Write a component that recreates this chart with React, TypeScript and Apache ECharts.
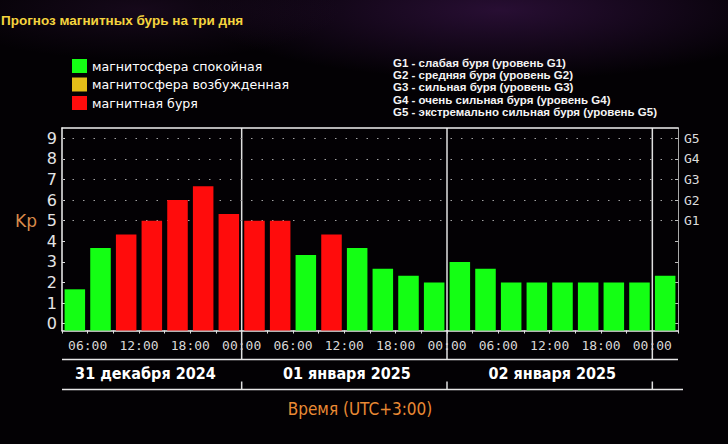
import React, { useEffect, useRef } from 'react';
import * as echarts from 'echarts';

// ---- data ----
const categories = [
  '31.12 03:00', '31.12 06:00', '31.12 09:00', '31.12 12:00', '31.12 15:00', '31.12 18:00', '31.12 21:00',
  '01.01 00:00', '01.01 03:00', '01.01 06:00', '01.01 09:00', '01.01 12:00', '01.01 15:00', '01.01 18:00', '01.01 21:00',
  '02.01 00:00', '02.01 03:00', '02.01 06:00', '02.01 09:00', '02.01 12:00', '02.01 15:00', '02.01 18:00', '02.01 21:00',
  '03.01 00:00',
];
const kpValues = [
  1.67, 3.67, 4.33, 5, 6, 6.67, 5.33,
  5, 5, 3.33, 4.33, 3.67, 2.67, 2.33, 2,
  3, 2.67, 2, 2, 2, 2, 2, 2,
  2.33,
];
const hourTickPos = [1, 3, 5, 7, 9, 11, 13, 15, 17, 19, 21, 23];
const hourLabels = ['06:00', '12:00', '18:00', '00:00', '06:00', '12:00', '18:00', '00:00', '06:00', '12:00', '18:00', '00:00'];
const daySeparators = [7, 15, 23];
const dayLabels = ['31 декабря 2024', '01 января 2025', '02 января 2025'];
const dayLabelPos = [3.25, 11.1, 19.1];
const yTicks = [0, 1, 2, 3, 4, 5, 6, 7, 8, 9];
const gLevels = [5, 6, 7, 8, 9];
const gLabels = ['G1', 'G2', 'G3', 'G4', 'G5'];
const gLegend = [
  'G1 - слабая буря (уровень G1)',
  'G2 - средняя буря (уровень G2)',
  'G3 - сильная буря (уровень G3)',
  'G4 - очень сильная буря (уровень G4)',
  'G5 - экстремально сильная буря (уровень G5)',
];
const legendLabels = ['магнитосфера спокойная', 'магнитосфера возбужденная', 'магнитная буря'];
const legendColors = ['#14ff14', '#e2bd18', '#ff0c0c'];
const titleText = 'Прогноз магнитных бурь на три дня';
const axisTitle = 'Время (UTC+3:00)';

const Y_MIN = -0.33;
const Y_MAX = 9.5;

const colorFor = (v: number) => (v > 4 ? legendColors[2] : v === 4 ? legendColors[1] : legendColors[0]);

export default function App() {
  const ref = useRef<HTMLDivElement>(null);
  useEffect(() => {
    if (!ref.current) return;
    const chart = echarts.init(ref.current, null, { renderer: 'svg' });
    const option: any = {
      animation: false,
      backgroundColor: '#030104',
      grid: { left: 62, right: 50, top: 128, bottom: 113.5 },
      xAxis: [
        {
          type: 'category',
          data: categories,
          position: 'bottom',
          boundaryGap: true,
          axisLine: { show: true, onZero: false, lineStyle: { color: '#f0f0f0', width: 1.5 } },
          axisTick: { show: true, interval: 0, length: 3, inside: false, lineStyle: { color: '#e0e0e0' } },
          axisLabel: { show: false },
          splitLine: { show: false },
        },
        {
          type: 'value',
          min: 0,
          max: 24,
          position: 'bottom',
          axisLine: { show: false },
          axisTick: { show: false },
          splitLine: { show: false },
          axisLabel: {
            customValues: hourTickPos,
            formatter: (v: number) => hourLabels[hourTickPos.indexOf(v)] ?? '',
            color: '#d8d8d8',
            fontFamily: '"DejaVu Sans Mono", monospace',
            fontSize: 13,
            margin: 8,
          },
        },
        {
          type: 'value',
          min: 0,
          max: 24,
          position: 'top',
          axisLine: { show: true, onZero: false, lineStyle: { color: '#f0f0f0', width: 1.5 } },
          axisTick: { show: false },
          axisLabel: { show: false },
          splitLine: { show: false },
        },
      ],
      yAxis: [
        {
          type: 'value',
          min: Y_MIN,
          max: Y_MAX,
          position: 'left',
          axisLine: { show: true, onZero: false, lineStyle: { color: '#f0f0f0', width: 1.5 } },
          axisTick: { show: true, customValues: yTicks, inside: true, length: 3, lineStyle: { color: '#e0e0e0' } },
          axisLabel: {
            customValues: yTicks,
            color: '#e4e4e4',
            fontFamily: '"DejaVu Sans", sans-serif',
            fontSize: 16,
            margin: 5,
          },
          splitLine: { show: false },
        },
        {
          type: 'value',
          min: Y_MIN,
          max: Y_MAX,
          position: 'right',
          axisLine: { show: true, onZero: false, lineStyle: { color: '#a8a8a8', width: 1 } },
          axisTick: { show: true, customValues: yTicks, inside: true, length: 3, lineStyle: { color: '#bbbbbb' } },
          axisLabel: {
            customValues: gLevels,
            formatter: (v: number) => gLabels[gLevels.indexOf(v)] ?? '',
            color: '#dcdcdc',
            fontFamily: '"DejaVu Sans Mono", monospace',
            fontSize: 13,
            margin: 6,
          },
          splitLine: { show: false },
        },
      ],
      series: [
        {
          name: 'base',
          type: 'bar',
          stack: 'kp',
          stackStrategy: 'all',
          barWidth: '80%',
          silent: true,
          xAxisIndex: 0,
          yAxisIndex: 0,
          data: kpValues.map(() => Y_MIN),
          itemStyle: { color: 'rgba(0,0,0,0)' },
          markLine: {
            silent: true,
            z: 1,
            symbol: 'none',
            label: { show: false },
            lineStyle: { color: '#a0a0a0', type: [1.5, 9], width: 1.2 },
            data: gLevels.map((v) => ({ yAxis: v })),
          },
        },
        {
          name: 'Kp',
          type: 'bar',
          stack: 'kp',
          stackStrategy: 'all',
          barWidth: '80%',
          z: 3,
          xAxisIndex: 0,
          yAxisIndex: 0,
          data: kpValues.map((v) => ({ value: v - Y_MIN, itemStyle: { color: colorFor(v) } })),
        },
      ],
    };
    chart.setOption(option);

    const px = (b: number) => chart.convertToPixel({ xAxisIndex: 1 }, b) as number;
    const py = (v: number) => chart.convertToPixel({ yAxisIndex: 0 }, v) as number;
    const top = py(Y_MAX);
    const bottom = py(Y_MIN);
    const left = px(0);
    const right = px(24);
    const line1 = bottom + 29;
    const line2 = bottom + 59;

    const elements: any[] = [
      {
        type: 'ellipse',
        z: -100,
        shape: { cx: 500, cy: 10, rx: 300, ry: 70 },
        style: {
          fill: {
            type: 'radial', x: 0.5, y: 0.5, r: 0.5,
            colorStops: [
              { offset: 0, color: 'rgba(70,25,90,0.55)' },
              { offset: 1, color: 'rgba(70,25,90,0)' },
            ],
          },
        },
        silent: true,
      },
      {
        type: 'ellipse',
        z: -100,
        shape: { cx: 140, cy: 10, rx: 200, ry: 50 },
        style: {
          fill: {
            type: 'radial', x: 0.5, y: 0.5, r: 0.5,
            colorStops: [
              { offset: 0, color: 'rgba(50,20,60,0.4)' },
              { offset: 1, color: 'rgba(50,20,60,0)' },
            ],
          },
        },
        silent: true,
      },
      {
        type: 'text', x: 1, y: 20,
        style: { text: titleText, fill: '#f5d43e', font: 'bold 13.5px "Liberation Sans", Arial, sans-serif', textVerticalAlign: 'middle' },
      },
      {
        type: 'text', x: 26, y: 221,
        style: { text: 'Kp', fill: '#d98a4a', font: '17px "DejaVu Sans", sans-serif', textAlign: 'center', textVerticalAlign: 'middle' },
      },
    ];
    const legendRows = [66, 84.5, 103];
    legendLabels.forEach((lab, i) => {
      elements.push({
        type: 'rect', shape: { x: 72, y: legendRows[i] - 7, width: 15, height: 14 },
        style: { fill: legendColors[i] },
      });
      elements.push({
        type: 'text', x: 92, y: legendRows[i],
        style: { text: lab, fill: '#ffffff', font: '12.6px "DejaVu Sans", sans-serif', textVerticalAlign: 'middle' },
      });
    });
    gLegend.forEach((lab, i) => {
      elements.push({
        type: 'text', x: 393, y: 63 + i * 12.2,
        style: { text: lab, fill: '#f4f4f4', font: 'bold 11.5px "Liberation Sans", Arial, sans-serif', textVerticalAlign: 'middle' },
      });
    });
    daySeparators.forEach((b) => {
      const x = px(b);
      elements.push({
        type: 'line', shape: { x1: x, y1: top, x2: x, y2: line1 },
        style: { stroke: '#e0e0e0', lineWidth: 1.5 },
      });
      elements.push({
        type: 'line', shape: { x1: x, y1: line2 - 8, x2: x, y2: line2 },
        style: { stroke: '#e0e0e0', lineWidth: 1.5 },
      });
    });
    elements.push({
      type: 'line', shape: { x1: left, y1: line1, x2: right, y2: line1 },
      style: { stroke: '#e6e6e6', lineWidth: 1.5 },
    });
    elements.push({
      type: 'line', shape: { x1: left, y1: line2, x2: right + 5, y2: line2 },
      style: { stroke: '#e6e6e6', lineWidth: 1.5 },
    });
    dayLabels.forEach((lab, i) => {
      elements.push({
        type: 'text', x: px(dayLabelPos[i]), y: bottom + 43,
        style: {
          text: lab, fill: '#ffffff',
          font: 'bold 16px "DejaVu Sans Condensed", "Liberation Sans Narrow", sans-serif',
          textAlign: 'center', textVerticalAlign: 'middle',
        },
      });
    });
    elements.push({
      type: 'text', x: (left + right) / 2 - 10, y: bottom + 78,
      style: {
        text: axisTitle, fill: '#ea8a34',
        font: '17px "DejaVu Sans Condensed", "Liberation Sans Narrow", sans-serif',
        textAlign: 'center', textVerticalAlign: 'middle',
      },
    });
    chart.setOption({ graphic: { elements } });

    return () => chart.dispose();
  }, []);
  return <div ref={ref} style={{ position: 'fixed', left: 0, top: 0, width: 728, height: 444 }} />;
}
